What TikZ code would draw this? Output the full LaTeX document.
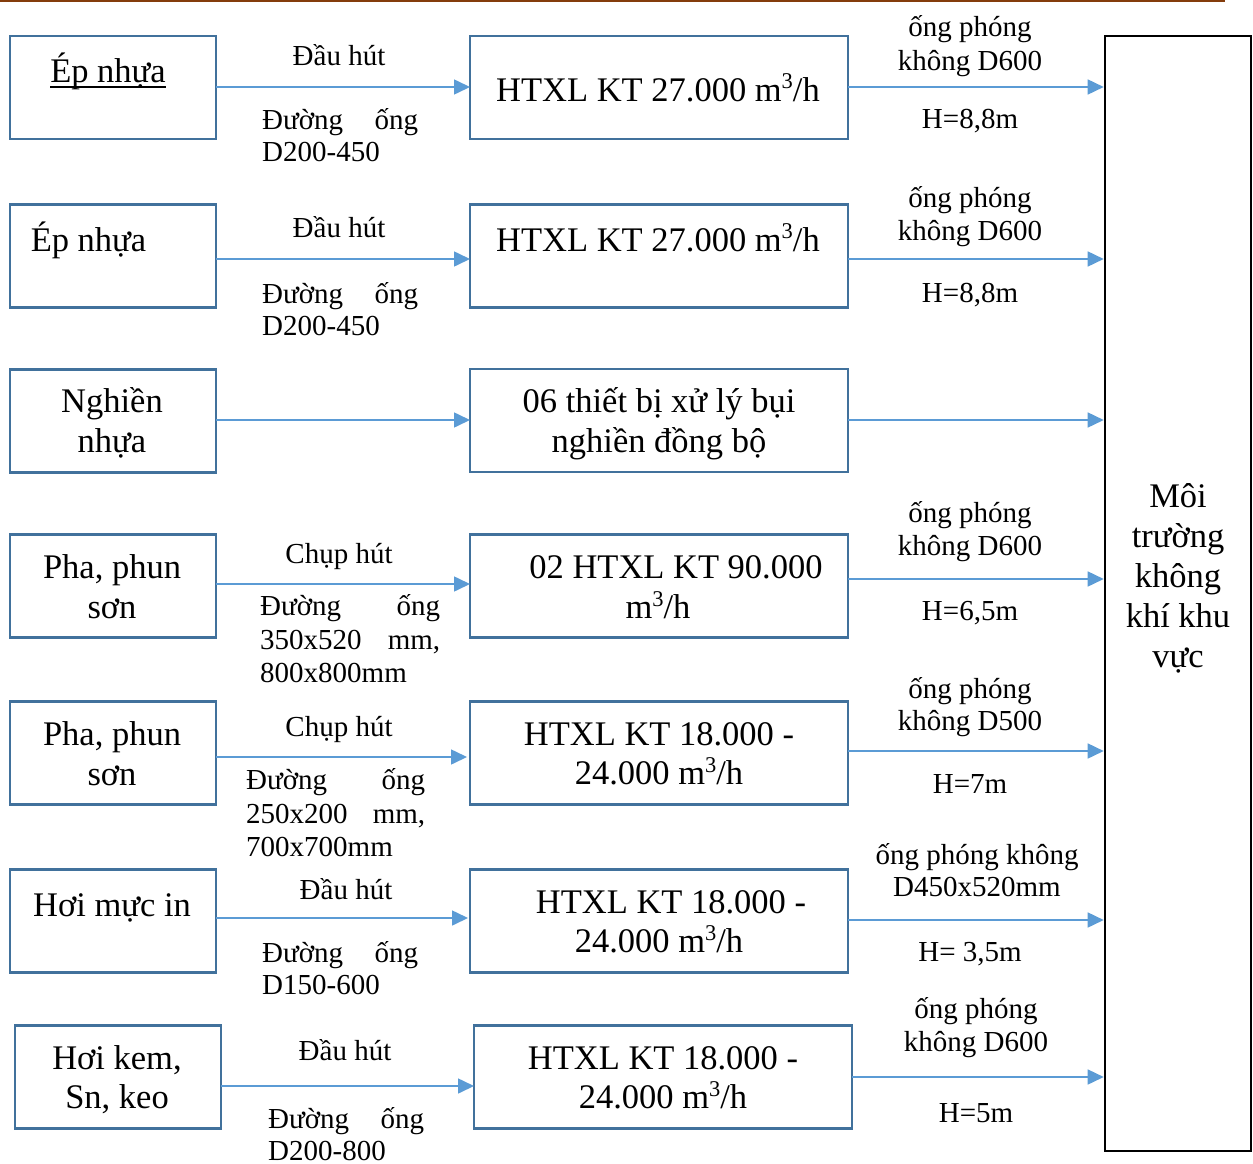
\documentclass[tikz,border=0pt]{standalone}
\usepackage{fontspec}
\setmainfont{Liberation Serif}
\usetikzlibrary{arrows.meta}
\definecolor{boxblue}{HTML}{41719C}
\definecolor{arrblue}{HTML}{5B9BD5}
\definecolor{rulebrown}{HTML}{843C0C}
\newcommand\bxfont{\fontsize{34.5}{40}\selectfont}
\newcommand\lbfont{\fontsize{29}{33}\selectfont}
\newcommand\cubic{m\raisebox{0.36em}{\fontsize{22.5}{22.5}\selectfont 3}/h}
\begin{document}
\begin{tikzpicture}[x=1pt,y=-1pt,
  box/.style={draw=boxblue, line width=2.5pt, inner sep=0, outer sep=0},
  sbox/.style={box, minimum width=206, minimum height=103},
  mbox/.style={box, minimum width=378, minimum height=103},
  arr/.style={draw=arrblue, line width=1.6pt, -{Triangle[length=16pt,width=15pt]}},
  bt/.style={font=\bxfont, anchor=base, inner sep=0},
  lt/.style={font=\lbfont, anchor=base, inner sep=0},
  lw/.style={lt, anchor=base west}]
\useasboundingbox (0,0) rectangle (1253,1164);

% header rule
\draw[rulebrown, line width=2pt] (0,1) coordinate (h0) -- (1225,1) coordinate (h1);

% receiving environment
\node[draw=black, line width=2.6pt, inner sep=0, minimum width=146, minimum height=1115] (R) at (1178,593.5) {};
\node[bt] (r1) at (1178,507) {Môi};
\node[bt] (r2) at (1178,547) {trường};
\node[bt] (r3) at (1178,587) {không};
\node[bt] (r4) at (1178,627) {khí khu};
\node[bt] (r5) at (1178,667) {vực};

% ---- row 1
\node[sbox] (L1) at (113,87.5) {};
\node[mbox] (M1) at (659,87.5) {};
\node[bt] (t1a) at (108,82) {Ép nhựa};
\draw[line width=1.5pt] ([yshift=-5]t1a.base west) -- ([yshift=-5]t1a.base east);
\node[bt] (t1b) at (658,101) {HTXL KT 27.000 \cubic};
\draw[arr] ([yshift=0.5]L1.east) -- ([yshift=0.5]M1.west);
\draw[arr] ([yshift=0.5]M1.east) -- ([yshift=0.5]M1.east -| R.west);
\node[lt] (a1) at (339,66) {Đầu hút};
\node[lw] (b1) at (262,129) {\makebox[156pt][s]{Đường ống}};
\node[lw] (c1) at (262,161) {D200-450};
\node[lt] (d1) at (970,37) {ống phóng};
\node[lt] (e1) at (970,70.5) {không D600};
\node[lt] (f1) at (970,128) {H=8,8m};

% ---- row 2
\node[sbox] (L2) at (113,256) {};
\node[mbox] (M2) at (659,256) {};
\node[bt] (t2a) at (88.5,251) {Ép nhựa};
\node[bt] (t2b) at (658,251) {HTXL KT 27.000 \cubic};
\draw[arr] ([yshift=-3]L2.east) -- ([yshift=-3]M2.west);
\draw[arr] ([yshift=-3]M2.east) -- ([yshift=-3]M2.east -| R.west);
\node[lt] (a2) at (339,237) {Đầu hút};
\node[lw] (b2) at (262,303) {\makebox[156pt][s]{Đường ống}};
\node[lw] (c2) at (262,335) {D200-450};
\node[lt] (d2) at (970,207) {ống phóng};
\node[lt] (e2) at (970,240) {không D600};
\node[lt] (f2) at (970,302) {H=8,8m};

% ---- row 3
\node[sbox] (L3) at (113,421) {};
\node[mbox] (M3) at (659,420.5) {};
\node[bt] (t3a) at (112,412.5) {Nghiền};
\node[bt] (t3b) at (112,452.5) {nhựa};
\node[bt] (t3c) at (659,412.5) {06 thiết bị xử lý bụi};
\node[bt] (t3d) at (659,452.5) {nghiền đồng bộ};
\draw[arr] ([yshift=1]L3.east) -- ([yshift=0.5]M3.west);
\draw[arr] ([yshift=0.5]M3.east) -- ([yshift=0.5]M3.east -| R.west);

% ---- row 4
\node[sbox] (L4) at (113,586) {};
\node[mbox] (M4) at (659,586) {};
\node[bt] (t4a) at (112,578.5) {Pha, phun};
\node[bt] (t4b) at (112,618.5) {sơn};
\node[bt] (t4c) at (676,578.5) {02 HTXL KT 90.000};
\node[bt] (t4d) at (658,618.5) {\cubic};
\draw[arr] ([yshift=2]L4.east) -- ([yshift=2]M4.west);
\draw[arr] ([yshift=7]M4.east) -- ([yshift=7]M4.east -| R.west);
\node[lt] (a4) at (339,563) {Chụp hút};
\node[lw] (b4) at (260,615) {\makebox[180pt][s]{Đường ống}};
\node[lw] (c4) at (260,649) {\makebox[180pt][s]{350x520 mm,}};
\node[lw] (g4) at (260,682) {800x800mm};
\node[lt] (d4) at (970,522) {ống phóng};
\node[lt] (e4) at (970,555) {không D600};
\node[lt] (f4) at (970,620) {H=6,5m};

% ---- row 5
\node[sbox] (L5) at (113,753) {};
\node[mbox] (M5) at (659,753) {};
\node[bt] (t5a) at (112,745.5) {Pha, phun};
\node[bt] (t5b) at (112,785.5) {sơn};
\node[bt] (t5c) at (659,745.5) {HTXL KT 18.000 -};
\node[bt] (t5d) at (659,784.5) {24.000 \cubic};
\draw[arr] ([yshift=-4]L5.east) -- ([xshift=-3,yshift=-4]M5.west);
\draw[arr] ([yshift=2]M5.east) -- ([yshift=2]M5.east -| R.west);
\node[lt] (a5) at (339,736) {Chụp hút};
\node[lw] (b5) at (246,789) {\makebox[179pt][s]{Đường ống}};
\node[lw] (c5) at (246,823) {\makebox[179pt][s]{250x200 mm,}};
\node[lw] (g5) at (246,856) {700x700mm};
\node[lt] (d5) at (970,698) {ống phóng};
\node[lt] (e5) at (970,730) {không D500};
\node[lt] (f5) at (970,793) {H=7m};

% ---- row 6
\node[sbox] (L6) at (113,921) {};
\node[mbox] (M6) at (659,921) {};
\node[bt] (t6a) at (112,916.5) {Hơi mực in};
\node[bt] (t6c) at (671,913.5) {HTXL KT 18.000 -};
\node[bt] (t6d) at (659,952.5) {24.000 \cubic};
\draw[arr] ([yshift=3]L6.east) -- ([xshift=-2,yshift=3]M6.west);
\draw[arr] ([yshift=1]M6.east) -- ([yshift=1]M6.east -| R.west);
\node[lt] (a6) at (346,899) {Đầu hút};
\node[lw] (b6) at (262,962) {\makebox[156pt][s]{Đường ống}};
\node[lw] (c6) at (262,994) {D150-600};
\node[lt] (d6) at (977,864) {ống phóng không};
\node[lt] (e6) at (977,896) {D450x520mm};
\node[lt] (f6) at (970,961) {H= 3,5m};

% ---- row 7
\node[sbox] (L7) at (118,1077) {};
\node[mbox] (M7) at (663,1077) {};
\node[bt] (t7a) at (117,1069.5) {Hơi kem,};
\node[bt] (t7b) at (117,1108.5) {Sn, keo};
\node[bt] (t7c) at (663,1069.5) {HTXL KT 18.000 -};
\node[bt] (t7d) at (663,1108.5) {24.000 \cubic};
\draw[arr] ([yshift=-9]L7.east) -- ([yshift=-9]M7.west);
\draw[arr] (M7.east) -- (M7.east -| R.west);
\node[lt] (a7) at (345,1060) {Đầu hút};
\node[lw] (b7) at (268,1128) {\makebox[156pt][s]{Đường ống}};
\node[lw] (c7) at (268,1160) {D200-800};
\node[lt] (d7) at (976,1018) {ống phóng};
\node[lt] (e7) at (976,1051) {không D600};
\node[lt] (f7) at (976,1122) {H=5m};
\end{tikzpicture}
\end{document}
